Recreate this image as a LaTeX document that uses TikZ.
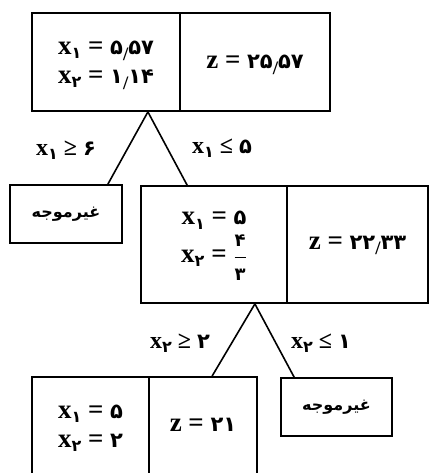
\documentclass[tikz,border=0pt]{standalone}
\usepackage{fontspec}
\usepackage{amsmath}
\setmainfont{Liberation Serif}
\newfontfamily\pf[Script=Arabic]{DejaVu Sans}
\TeXXeTstate=1
\usetikzlibrary{calc}
\newcommand{\xv}[1]{x\raisebox{-0.35ex}{\pf\bfseries\fontsize{16}{16}\selectfont #1}}
\newcommand{\pd}[1]{{\pf\bfseries\fontsize{21}{21}\selectfont #1}}
\newcommand{\dsep}{\raisebox{-0.5ex}{\rmfamily\bfseries\fontsize{19}{19}\selectfont /}}
\newcommand{\eqs}{\ = }
\begin{document}
\begin{tikzpicture}[x=1pt,y=-1pt,
  cell/.style={draw,line width=1.8pt,inner sep=0pt},
  celltext/.style={inner sep=0pt,align=center,
    font=\bfseries\fontsize{27}{29}\selectfont},
  infbox/.style={draw,line width=1.8pt,inner sep=0pt,
    font=\pf\bfseries\fontsize{16}{18}\selectfont},
  branch/.style={line width=1.6pt},
  lbl/.style={inner sep=0pt,font=\bfseries\fontsize{24}{24}\selectfont}]
\useasboundingbox (0,0) rectangle (430,473);
\clip (0,0) rectangle (430,473);
% top
\node[cell,minimum width=148pt,minimum height=98pt] (t1) at (106,62) {};
\node[cell,minimum width=150pt,minimum height=98pt] (t2) at (255,62) {};
\node[celltext] (t1c) at (106,65)
  {\xv{۱}\eqs\pd{۵\dsep۵۷}\\ \xv{۲}\eqs\pd{۱\dsep۱۴}};
\node[celltext] (t2c) at (255,65) {z\eqs\pd{۲۵\dsep۵۷}};
% second level
\node[infbox,minimum width=112pt,minimum height=58pt] (inf1) at (66,214)
  {\beginR غیرموجه\endR};
\node[cell,minimum width=146pt,minimum height=117pt] (m1) at (214,244.5) {};
\node[cell,minimum width=141pt,minimum height=117pt] (m2) at (357.5,244.5) {};
\node[celltext] (m1c) at (214,246)
  {\xv{۱}\eqs\pd{۵}\\[5pt] \xv{۲}\eqs\raisebox{-0.1ex}{$\dfrac{\hbox{\pd{\fontsize{18}{18}\selectfont ۴}}}{\hbox{\pd{\fontsize{18}{18}\selectfont ۳}}}$}};
\node[celltext] (m2c) at (357.5,245.5) {z\eqs\pd{۲۲\dsep۳۳}};
% third level
\node[cell,minimum width=117pt,minimum height=100pt] (b1) at (90.5,427) {};
\node[cell,minimum width=108pt,minimum height=100pt] (b2) at (203,427) {};
\node[celltext] (b1c) at (90.5,428.5) {\xv{۱}\eqs\pd{۵}\\ \xv{۲}\eqs\pd{۲}};
\node[celltext] (b2c) at (203,425) {z\eqs\pd{۲۱}};
\node[infbox,minimum width=111pt,minimum height=58pt] (inf2) at (336.5,407)
  {\beginR غیرموجه\endR};
% branches
\draw[branch] ($(t1.south east)+(-33,0)$) -- ($(inf1.north east)+(-15,0)$);
\draw[branch] ($(t1.south east)+(-33,0)$) -- ($(m1.north west)+(47,0)$);
\draw[branch] ($(m1.south east)+(-33,0)$) -- ($(b2.north west)+(64,0)$);
\draw[branch] ($(m1.south east)+(-33,0)$) -- ($(inf2.north west)+(14,0)$);
% labels
\node[lbl] (l1) at (66,150) {\xv{۱} ≥ \pd{۶}};
\node[lbl] (l2) at (222,148) {\xv{۱} ≤ \pd{۵}};
\node[lbl] (l3) at (180,343) {\xv{۲} ≥ \pd{۲}};
\node[lbl] (l4) at (321,343) {\xv{۲} ≤ \pd{۱}};
\end{tikzpicture}
\end{document}
